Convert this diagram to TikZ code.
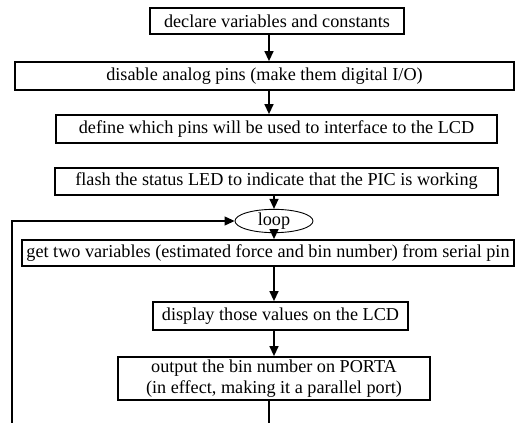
\documentclass[tikz,border=0pt]{standalone}
\usepackage{fontspec}
\setmainfont{Liberation Serif}
\usetikzlibrary{arrows.meta,shapes.geometric}
\begin{document}
\begin{tikzpicture}[x=1pt,y=-1pt,
  box/.style={draw, line width=1.8pt, rectangle, inner sep=0pt, align=center,
    font=\fontsize{18.2}{21.5}\selectfont},
  oval/.style={draw, line width=0.9pt, ellipse, inner sep=0pt,
    font=\fontsize{18.2}{21.5}\selectfont},
  arr/.style={line width=1.4pt, -{Triangle[length=10pt,width=9pt]}},
  fb/.style={line width=1.1pt, -{Triangle[length=10pt,width=9pt]}}]
\useasboundingbox (0,0) rectangle (515,423);
\node[box, minimum width=254pt, minimum height=26pt] (b1) at (277,21) {declare variables and constants};
\node[box, minimum width=499pt, minimum height=28pt] (b2) at (264.5,76) {disable analog pins (make them digital I/O)};
\node[box, minimum width=441pt, minimum height=28pt] (b3) at (276.5,129) {define which pins will be used to interface to the LCD};
\node[box, minimum width=443pt, minimum height=27pt] (b4) at (276.5,181.5) {flash the status LED to indicate that the PIC is working};
\node[oval, minimum width=78pt, minimum height=19pt] (lp) at (274,221) {loop};
\node[box, minimum width=492pt, minimum height=26pt] (b5) at (268,253) {get two variables (estimated force and bin number) from serial pin};
\node[box, minimum width=255pt, minimum height=28pt] (b6) at (280.5,316) {display those values on the LCD};
\node[box, minimum width=312pt, minimum height=43pt] (b7) at (274,378.5) {output the bin number on PORTA\\(in effect, making it a parallel port)};
\coordinate (xa) at (269,0);
\coordinate (xb) at (274,0);
\draw[arr] (b1.south -| xa) -- (b2.north -| xa);
\draw[arr] (b2.south -| xa) -- (b3.north -| xa);
\draw[arr] (b4.south -| xb) -- (lp.north);
\draw[arr] (lp.south) -- (b5.north -| xb);
\draw[arr] (b5.south -| xb) -- (b6.north -| xb);
\draw[arr] (b6.south -| xb) -- (b7.north -| xb);
\begin{scope}
\clip (0,0) rectangle (515,423);
\coordinate (f1) at (269,440);
\coordinate (f2) at (12,440);
\draw[fb] (b7.south -| f1) -- (f1) -- (f2) -- (f2 |- lp.west) -- (lp.west);
\end{scope}
\end{tikzpicture}
\end{document}
